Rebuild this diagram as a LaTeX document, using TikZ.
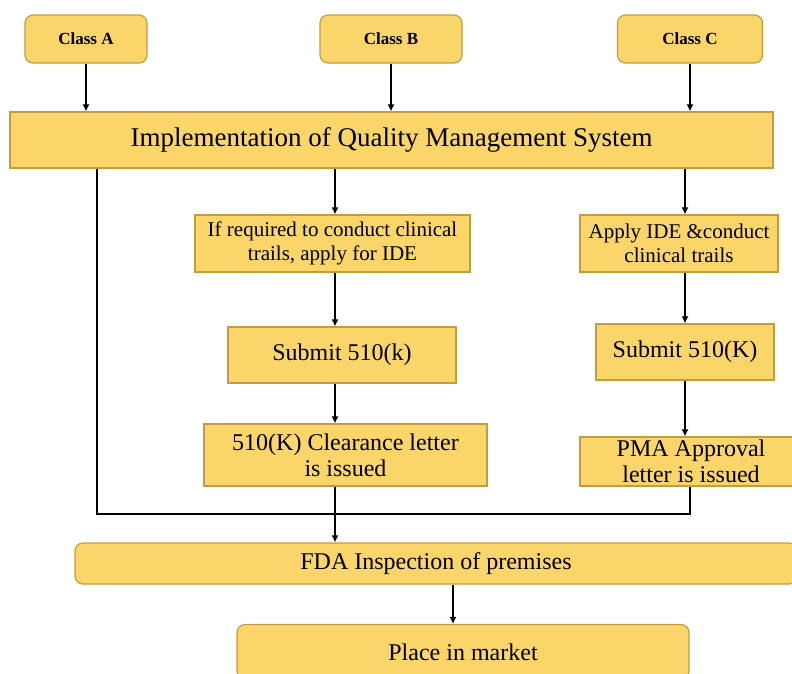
\documentclass[tikz,border=0pt]{standalone}
\usepackage{fontspec}
\setmainfont{Liberation Serif}
\usetikzlibrary{arrows.meta}
\definecolor{boxfill}{RGB}{250,213,106}
\definecolor{boxline}{RGB}{196,156,64}
\tikzset{
  >={Latex[width=7pt,length=7pt]},
  % Specifications for style of nodes:
        base/.style = {rectangle, draw=boxline, fill=boxfill, line width=1.2pt,
                       inner sep=0pt, align=center,
                       font=\fontsize{24}{26}\selectfont},
   classnode/.style = {base, rounded corners=8pt, minimum height=48pt,
                       font=\bfseries\fontsize{17}{19}\selectfont},
       stage/.style = {base, minimum height=56pt},
  smallstage/.style = {stage, minimum height=57pt,
                       font=\fontsize{21}{24}\selectfont},
       final/.style = {base, rounded corners=8pt},
        link/.style = {line width=1.5pt},
}

\begin{document}
\begin{tikzpicture}[x=1pt, y=-1pt]
    \useasboundingbox (0,0) rectangle (792,673);
    % Specification of nodes (position, etc.)
    \node (classA)    [classnode, minimum width=122pt] at (86,39)     {Class A};
    \node (classB)    [classnode, minimum width=142pt] at (391,39)    {Class B};
    \node (classC)    [classnode, minimum width=145pt] at (690,39)    {Class C};
    \node (qms)       [stage, minimum width=763pt,
                       font=\fontsize{27}{29}\selectfont] at (391.5,140)
                                    {Implementation of Quality Management System};
    \node (ide)       [smallstage, minimum width=275pt] at (332.5,243.5)
                            {If required to conduct clinical\\trails, apply for IDE};
    \node (applyIde)  [smallstage, minimum width=198pt] at (679,243.5)
                                       {Apply IDE \&conduct\\clinical trails};
    \node (submitB)   [stage, minimum width=228pt] at (342,355)     {Submit 510(k)};
    \node (submitC)   [stage, minimum width=178pt] at (685,352)     {Submit 510(K)};
    \node (clearance) [stage, minimum width=283pt, minimum height=62pt] at (345.5,455)
                                          {510(K) Clearance letter\\is issued};
    \node (pma)       [stage, minimum width=222pt, minimum height=49pt] at (691,461.5)
                                          {PMA Approval\\letter is issued};
    \node (fda)       [final, minimum width=722pt, minimum height=41pt] at (436,563.5)
                                               {FDA Inspection of premises};
    \node (market)    [final, minimum width=452pt, minimum height=55pt] at (463,652)
                                                         {Place in market};

    % Columns and bus used by the connectors
    \coordinate (colB) at (335,0);
    \coordinate (colC) at (685,0);
    \coordinate (busL) at (97,514);
    \coordinate (busR) at (690,514);
    \coordinate (mkt)  at (453,0);

    % Specification of lines between nodes specified above
    \draw[->, link] (classA) -- (classA.south |- qms.north);
    \draw[->, link] (classB) -- (classB.south |- qms.north);
    \draw[->, link] (classC) -- (classC.south |- qms.north);
    \draw[->, link] (qms.south -| colB) -- (ide.north -| colB);
    \draw[->, link] (qms.south -| colC) -- (applyIde.north -| colC);
    \draw[->, link] (ide.south -| colB) -- (submitB.north -| colB);
    \draw[->, link] (applyIde.south -| colC) -- (submitC.north -| colC);
    \draw[->, link] (submitB.south -| colB) -- (clearance.north -| colB);
    \draw[->, link] (submitC.south -| colC) -- (pma.north -| colC);
    \draw[link]     (qms.south -| busL) -- (busL) -- (busR) -- (pma.south -| busR);
    \draw[->, link] (clearance.south -| colB) -- (fda.north -| colB);
    \draw[->, link] (fda.south -| mkt) -- (market.north -| mkt);
\end{tikzpicture}
\end{document}
